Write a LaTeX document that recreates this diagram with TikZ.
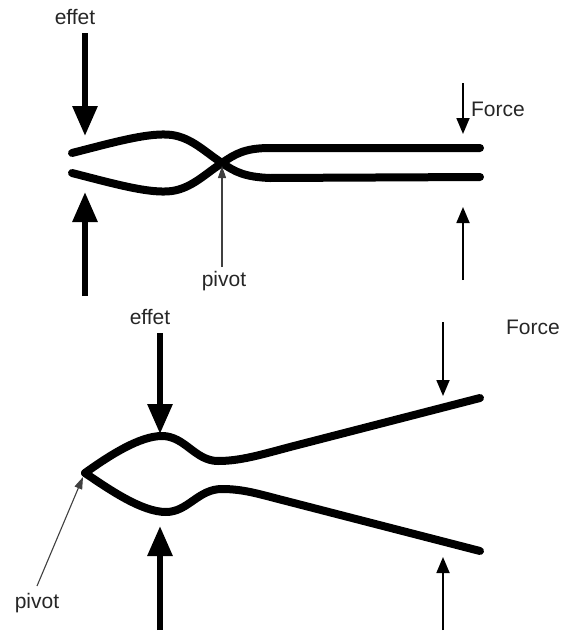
\documentclass[tikz,border=0pt]{standalone}
\usepackage{fontspec}
\setmainfont{Liberation Sans}
\usetikzlibrary{arrows.meta}
\begin{document}
\begin{tikzpicture}[x=1pt,y=-1pt,
  lbl/.style={font=\fontsize{21}{25}\selectfont, text=black!85, inner sep=0pt},
  jaw/.style={line width=8pt, line cap=round, line join=round},
  bigarrow/.style={line width=6pt, -{Triangle[length=30pt,width=24pt]}},
  forcearrow/.style={line width=1.8pt, -{Triangle[length=16pt,width=13pt]}},
  pivotarrow/.style={line width=1.1pt, draw=black!75, -{Triangle[length=12pt,width=8pt]}}]
\useasboundingbox (0,0) rectangle (564,632);

% ---------- closed pliers ----------
\node[lbl] (effetA) at (75,17) {effet};
\node[lbl] (forceA) at (498,109) {Force};
\node[lbl] (pivotA) at (224,281) {pivot};

% jaws crossing at the pivot
\draw[jaw] (72,153) .. controls (115,142) and (150,132) .. (172,135)
  .. controls (192,138) and (205,152) .. (222,163)
  .. controls (235,172) and (245,177) .. (270,178) -- (480,177);
\draw[jaw] (72,173) .. controls (115,184) and (150,194) .. (172,191)
  .. controls (192,188) and (205,174) .. (222,163)
  .. controls (235,154) and (245,148) .. (270,148) -- (480,148);

\coordinate (a1s) at (85,33);   \coordinate (a1e) at (85,136);
\coordinate (a2s) at (85,296);  \coordinate (a2e) at (85,192);
\coordinate (f1s) at (463,83);  \coordinate (f1e) at (463,134);
\coordinate (f2s) at (463,280); \coordinate (f2e) at (463,207);
\coordinate (pAe) at (222,166);

\draw[bigarrow] (a1s) -- (a1e);
\draw[bigarrow] (a2s) -- (a2e);
\draw[forcearrow] (f1s) -- (f1e);
\draw[forcearrow] (f2s) -- (f2e);
\draw[pivotarrow] (pivotA.north -| pAe) ++(0,-4) -- (pAe);

% ---------- open pliers ----------
\node[lbl] (effetB) at (150,317) {effet};
\node[lbl] (forceB) at (533,327) {Force};
\node[lbl] (pivotB) at (37,603) {pivot};

\draw[jaw] (85,473) .. controls (110,455) and (140,436) .. (162,436)
  .. controls (185,436) and (195,461) .. (218,461)
  .. controls (240,461) and (260,455) .. (290,447) -- (480,398);
\draw[jaw] (85,473) .. controls (110,490) and (142,512) .. (166,512)
  .. controls (188,512) and (198,489) .. (222,489)
  .. controls (245,489) and (262,495) .. (290,502) -- (480,551);

\coordinate (b1s) at (160,333); \coordinate (b1e) at (160,434);
\coordinate (b2s) at (160,630); \coordinate (b2e) at (160,526);
\coordinate (g1s) at (443,322); \coordinate (g1e) at (443,396);
\coordinate (g2s) at (443,630); \coordinate (g2e) at (443,557);
\coordinate (pBs) at (37,586);  \coordinate (pBe) at (83,477);

\draw[bigarrow] (b1s) -- (b1e);
\draw[bigarrow] (b2s) -- (b2e);
\draw[forcearrow] (g1s) -- (g1e);
\draw[forcearrow] (g2s) -- (g2e);
\draw[pivotarrow] (pBs) -- (pBe);
\end{tikzpicture}
\end{document}
